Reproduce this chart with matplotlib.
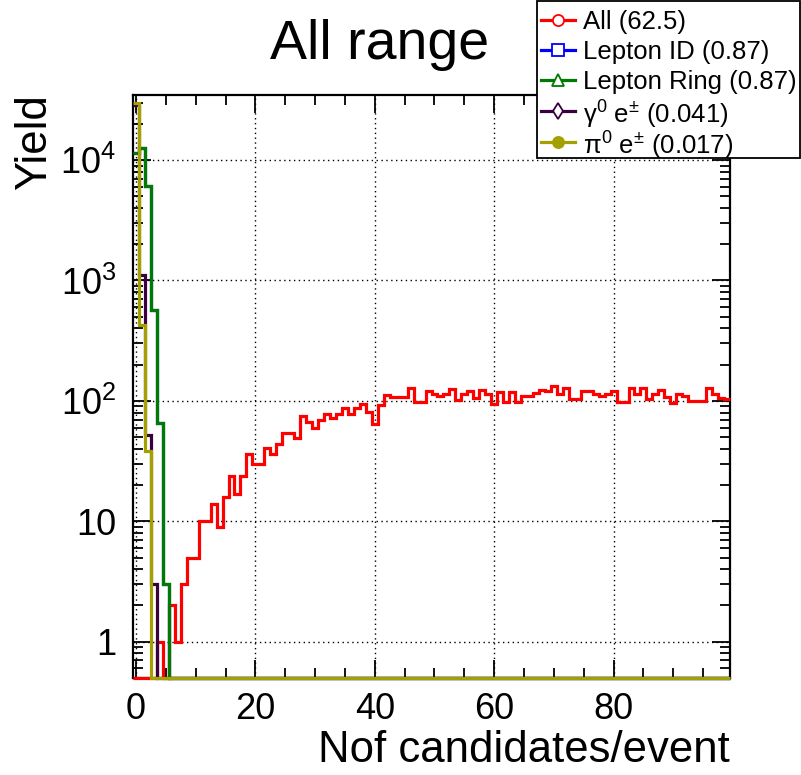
import numpy as np
import matplotlib
matplotlib.use('Agg')
import matplotlib.pyplot as plt
from matplotlib.ticker import FixedLocator, LogLocator, NullFormatter, FuncFormatter, MultipleLocator
from matplotlib.lines import Line2D
from matplotlib.patches import Rectangle

plt.rcParams['font.family'] = ['Liberation Sans', 'DejaVu Sans']
plt.rcParams['mathtext.fontset'] = 'custom'
plt.rcParams['mathtext.rm'] = 'Liberation Sans'
plt.rcParams['mathtext.it'] = 'Liberation Sans:italic'
plt.rcParams['mathtext.bf'] = 'Liberation Sans:bold'

# ---------------- data ----------------
x_lo, x_hi, n_bins = -0.5, 99.5, 100

all_counts = [0, 0, 0, 0, 1, 0, 2, 1, 3, 5,
              5, 10, 10, 14, 9, 16, 24, 17, 24, 36,
              30, 30, 41, 36, 44, 54, 54, 49, 75, 67,
              60, 70, 78, 72, 78, 87, 78, 87, 95, 81,
              64, 93, 111, 107, 107, 107, 127, 97, 97, 120,
              114, 109, 114, 125, 102, 115, 120, 105, 122, 114,
              95, 119, 98, 118, 98, 110, 110, 116, 122, 120,
              132, 114, 128, 103, 103, 121, 121, 114, 110, 114,
              121, 97, 98, 129, 114, 127, 103, 114, 123, 108,
              96, 114, 109, 100, 100, 100, 129, 114, 105, 103]
lepton_ring_head = [11500, 12700, 6100, 571, 66, 3]
lepton_id_head = [11500, 12700, 6100, 571, 66, 3]
gamma_e_head = [28800, 1110, 52, 3]
pi0_e_head = [29500, 430, 38]

series_labels = ["All (62.5)", "Lepton ID (0.87)", "Lepton Ring (0.87)",
                 "γ$^{0}$ e$^{\\pm}$ (0.041)", "π$^{0}$ e$^{\\pm}$ (0.017)"]
series_colors = ["#ff0000", "#0000ff", "#007a00", "#3a0040", "#a3a000"]
series_markers = ["o", "s", "^", "d", "o"]
series_filled = [False, False, False, False, True]

title_text = "All range"
x_title = "Nof candidates/event"
y_title = "Yield"
x_major = [0, 20, 40, 60, 80]
y_decades = [1, 10, 100, 1000, 10000]
y_min, y_max = 0.5, 3.5e4


def pad(head):
    return list(head) + [0] * (n_bins - len(head))


series = [all_counts, pad(lepton_id_head), pad(lepton_ring_head),
          pad(gamma_e_head), pad(pi0_e_head)]

edges = np.linspace(x_lo, x_hi, n_bins + 1)

# ---------------- figure ----------------
W, H = 801, 775
fig = plt.figure(figsize=(W / 100, H / 100), dpi=100)
fig.patch.set_facecolor('white')
left, right, top, bottom = 133, 730, 94.5, 678
ax = fig.add_axes([left / W, 1 - bottom / H, (right - left) / W, (bottom - top) / H])
ax.set_yscale('log')
ax.set_xlim(x_lo, x_hi)
ax.set_ylim(y_min, y_max)

lw = 2.3
for vals, col in zip(series, series_colors):
    v = np.asarray(vals, dtype=float)
    v = np.where(v > 0, v, y_min)
    ax.stairs(v, edges, baseline=None, color=col, linewidth=lw, clip_on=False, zorder=3)

# grid
ax.grid(True, which='major', color='black', linestyle=(0, (1, 2.5)), linewidth=1.0)

# ticks
ax.xaxis.set_major_locator(FixedLocator(x_major))
ax.xaxis.set_minor_locator(MultipleLocator(5))
ax.yaxis.set_major_locator(FixedLocator(y_decades))
ax.yaxis.set_minor_locator(LogLocator(base=10, subs=np.arange(2, 10), numticks=20))
ax.yaxis.set_minor_formatter(NullFormatter())


def yfmt(v, pos):
    if v == 1:
        return "1"
    if v == 10:
        return "10"
    e = int(round(np.log10(v)))
    return r"$\mathregular{10^{%d}}$" % e


ax.yaxis.set_major_formatter(FuncFormatter(yfmt))
ax.tick_params(which='both', direction='in', top=True, right=True, width=1.3, color='black')
ax.tick_params(which='major', length=13, labelsize=26)
ax.tick_params(axis='x', which='major', pad=10)
ax.tick_params(axis='y', which='major', pad=12)
ax.tick_params(which='minor', length=7)
for s in ax.spines.values():
    s.set_linewidth(1.6)

ax.set_axisbelow(False)

# titles
ax.set_xlabel(x_title, fontsize=31.5, ha='right', x=1.0, labelpad=2)
ax.set_ylabel(y_title, fontsize=31.5, ha='right', y=1.0, labelpad=4)
fig.text(380 / W, 1 - 45 / H, title_text, fontsize=40, ha='center', va='center')

# legend (drawn as a box in figure pixels, like ROOT's TLegend)
def fx(px):
    return px / W


def fy(py):
    return 1 - py / H


box = Rectangle((fx(537), fy(158)), fx(800) - fx(537), fy(1) - fy(158),
                transform=fig.transFigure, facecolor='white', edgecolor='black',
                linewidth=1.3, zorder=20)
fig.add_artist(box)
row_y = [20, 50, 80, 111, 142]
for yy, lab, col, mk, filled in zip(row_y, series_labels, series_colors,
                                     series_markers, series_filled):
    fig.add_artist(Line2D([fx(541), fx(575)], [fy(yy), fy(yy)], transform=fig.transFigure,
                          color=col, linewidth=lw, zorder=21))
    fig.add_artist(Line2D([fx(558)], [fy(yy)], transform=fig.transFigure, linestyle='none',
                          marker=mk, markersize=8, markerfacecolor=col if filled else 'white',
                          markeredgecolor=col, markeredgewidth=1.3, zorder=22))
    fig.text(fx(583), fy(yy), lab, fontsize=18.5, ha='left', va='center_baseline',
             zorder=23)

fig.savefig('out.png', dpi=100)
